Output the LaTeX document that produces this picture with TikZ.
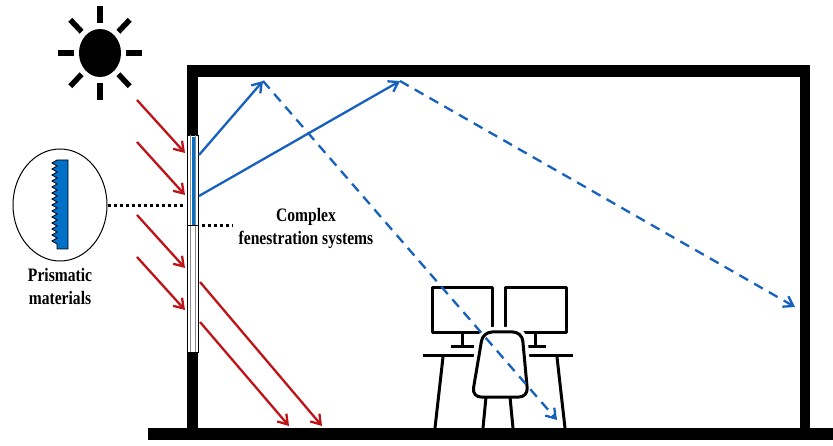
\documentclass[tikz,border=0pt]{standalone}
\usepackage{fontspec}
\setmainfont{Liberation Serif}
\newfontfamily\labelfont[FakeStretch=0.82]{Liberation Serif}
\usepackage{tikz}
\usetikzlibrary{arrows.meta,positioning,calc,shapes.geometric}
\definecolor{rayRed}{RGB}{190,20,24}
\definecolor{rayBlue}{RGB}{22,96,190}
\definecolor{prismBlue}{RGB}{0,112,200}
\definecolor{paneGray}{RGB}{140,140,140}

\begin{document}
\begin{tikzpicture}[x=1pt,y=-1pt,
  sunray/.style={line width=5.5pt},
  redray/.style={rayRed,line width=2.3pt,-{Straight Barb[length=9pt,width=12pt]}},
  blueray/.style={rayBlue,line width=2.3pt,-{Straight Barb[length=9pt,width=12pt]}},
  bluedash/.style={blueray,dash pattern=on 10pt off 7pt},
  dotlink/.style={line width=3pt,dash pattern=on 3pt off 3pt},
  furniture/.style={line width=3pt,line join=round},
  labeltext/.style={font=\labelfont\bfseries\fontsize{19}{23}\selectfont,align=center}]
  \useasboundingbox (0,0) rectangle (833,446);
  % sun
  \coordinate (sun) at (100,53);
  \fill (sun) ellipse (21 and 24);
  \foreach \a in {0,45,...,315}
    \draw[sunray] ([shift={(\a:26 and 30)}]sun) -- ([shift={(\a:42 and 47)}]sun);
  % building shell
  \fill (187,65) rectangle (810,77);
  \fill (187,65) rectangle (198,135);
  \fill (187,352) rectangle (198,430);
  \fill (800,65) rectangle (810,430);
  \fill (148,428) rectangle (833,440);
  % window with prismatic pane on top
  \draw[line width=0.8pt,fill=white] (187,135) rectangle (198,352);
  \draw[paneGray,line width=0.6pt] (190.5,135) -- (190.5,352) (195.5,135) -- (195.5,352);
  \fill[prismBlue] (191.5,137) rectangle (195,225);
  \draw[line width=1pt] (187,226) -- (198,226);
  % zoomed prism detail
  \node[draw,ellipse,line width=1pt,minimum width=94pt,minimum height=112pt] (lens) at (60,205) {};
  \draw[fill=prismBlue,line width=0.8pt] (57,160)
    \foreach \k in {0,...,13}{ -- (52,163+6*\k) -- (57,166+6*\k)} -- (57,249) -- (68,249) -- (68,160) -- cycle;
  \node[labeltext,below=3pt of lens] (prismlabel) {Prismatic\\materials};
  \coordinate (paneL) at (185,206);
  \draw[dotlink] (lens.east |- paneL) -- (paneL);
  % label for the glazing
  \coordinate (paneR) at (202,226);
  \coordinate (tagR) at (233,226);
  \draw[dotlink] (paneR) -- (tagR);
  \node[labeltext] (cfs) at (306,228) {Complex\\fenestration systems};
  % workstation
  \draw[furniture] (432,288) rectangle (492,333);
  \draw[furniture] (462,333) -- (462,346) (451,347) -- (474,347);
  \draw[furniture] (505,288) rectangle (566,333);
  \draw[furniture] (535,333) -- (535,346) (525,347) -- (546,347);
  \draw[furniture] (423,356) -- (573,356);
  \draw[furniture] (443,357) -- (435,428) (557,357) -- (565,428);
  \draw[white,line width=10pt,rounded corners=9pt,fill=white]
    (483,332) -- (522,332) -- (528,397) -- (472,397) -- cycle;
  \draw[furniture,rounded corners=9pt,fill=white]
    (483,332) -- (522,332) -- (528,397) -- (472,397) -- cycle;
  \draw[furniture] (486,397) -- (483,428) (510,397) -- (513,428);
  % incoming sunlight
  \foreach \y [count=\i] in {100,142,215,257}{
    \coordinate (src\i) at (137,\y);
    \coordinate (hit\i) at (185,\y+53);
    \draw[redray] (src\i) -- (hit\i);}
  \coordinate (pass1) at (200,282);
  \coordinate (land1) at (322,426);
  \coordinate (pass2) at (200,322);
  \coordinate (land2) at (289,426);
  \draw[redray] (pass1) -- (land1);
  \draw[redray] (pass2) -- (land2);
  % redirected light
  \coordinate (outA) at (199,155);
  \coordinate (ceilA) at (263,81);
  \coordinate (outB) at (199,196);
  \coordinate (ceilB) at (400,81);
  \coordinate (floorA) at (557,420);
  \coordinate (wallB) at (795,307);
  \draw[blueray] (outA) -- (ceilA);
  \draw[blueray] (outB) -- (ceilB);
  \draw[bluedash] (ceilA) -- (floorA);
  \draw[bluedash] (ceilB) -- (wallB);
\end{tikzpicture}
\end{document}
